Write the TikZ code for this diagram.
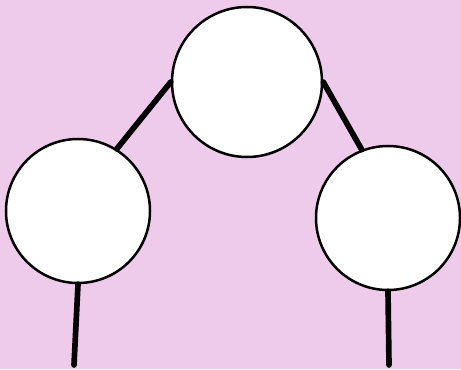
\documentclass[tikz,border=0pt]{standalone}
\usepackage{tikz}
\usetikzlibrary{positioning}
\definecolor{bgpink}{RGB}{239,203,235}
\tikzset{
  ball/.style={circle, draw=black, line width=0.075cm, fill=white, inner sep=0pt},
  stick/.style={line width=0.17cm, line cap=round}
}
\begin{document}
\begin{tikzpicture}[x=0.03cm, y=-0.03cm]
    % 背景
    \fill[bgpink] (0,0) rectangle (461,369);
    \useasboundingbox (0,0) rectangle (461,369);
    % 三个圆
    \node[ball, minimum size=4.5cm] (top) at (247,82) {};
    \node[ball, minimum size=4.32cm] (left) at (78,211) {};
    \node[ball, minimum size=4.32cm] (right) at (388,218) {};
    % 下方自由端
    \coordinate (leftend) at (74,365);
    \coordinate (rightend) at (389,365);
    % 连线
    \draw[stick] (top.180) -- (left.58);
    \draw[stick] (top.0) -- (right.111);
    \draw[stick] (left.270) -- (leftend);
    \draw[stick] (right.270) -- (rightend);
\end{tikzpicture}
\end{document}
